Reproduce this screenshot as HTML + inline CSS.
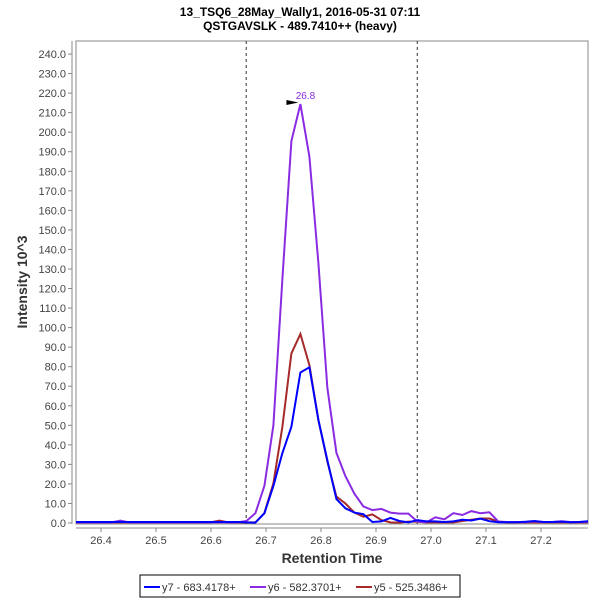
<!DOCTYPE html>
<html><head><meta charset="utf-8"><style>
body{margin:0;background:#fff;}
svg{display:block;font-family:"Liberation Sans",sans-serif;}
</style></head><body>
<svg id="chart" width="600" height="600" viewBox="0 0 600 600">
<text x="300" y="16" text-anchor="middle" font-size="12" font-weight="bold">13_TSQ6_28May_Wally1, 2016-05-31 07:11</text>
<text x="300" y="30" text-anchor="middle" font-size="12" font-weight="bold">QSTGAVSLK - 489.7410++ (heavy)</text>
<rect x="76" y="41" width="512" height="483" fill="#fff" stroke="#888" stroke-width="1"/>
<g id="yaxis"></g>
<g id="xaxis"></g>
<text transform="translate(27,282) rotate(-90)" text-anchor="middle" font-size="14" font-weight="bold" fill="#333">Intensity 10^3</text>
<text x="332" y="563" text-anchor="middle" font-size="14" font-weight="bold" fill="#333">Retention Time</text>
<defs><clipPath id="clip"><rect x="76" y="41" width="512" height="483"/></clipPath></defs>
<g id="marks" clip-path="url(#clip)"></g>
<g>
<rect x="140" y="575" width="320" height="22" fill="#fff" stroke="#000" stroke-width="1"/>
<line x1="144" y1="587" x2="160" y2="587" stroke="#0000ff" stroke-width="2"/>
<text x="162" y="591" font-size="11" fill="#333">y7 - 683.4178+</text>
<line x1="250" y1="587" x2="266" y2="587" stroke="#8a2be2" stroke-width="2"/>
<text x="268" y="591" font-size="11" fill="#333">y6 - 582.3701+</text>
<line x1="356" y1="587" x2="372" y2="587" stroke="#a52a2a" stroke-width="2"/>
<text x="374" y="591" font-size="11" fill="#333">y5 - 525.3486+</text>
</g>
</svg>
<script>
const t0 = 26.3535;
const dt = 0.016364;
const y7 = [0.5,0.5,0.5,0.5,0.5,0.5,0.5,0.5,0.5,0.5,0.5,0.5,0.5,0.5,0.5,0.5,0.5,0.5,0.5,
 0.3,0.2,5,19,35.8,49.3,77,79.7,52.7,32,12.3,7.5,5.3,4.5,0.5,0.8,2.6,1,0.3,1.5,0.8,0.8,0.5,0.8,1.7,1.3,2.2,0.9,0.4,
 0.4,0.4,0.6,1.0,0.5,0.5,0.7,0.4,0.5,0.9];
const y6 = [0.3,0.3,0.3,0.3,0.3,1.2,0.3,0.3,0.3,0.3,0.3,0.3,0.3,0.3,0.3,0.3,0.3,0.3,0.3,
 1,5,19,50,125,195.5,214.4,187.5,133,69,36,24,15,8.5,6.6,7.2,5.3,4.8,4.8,0.7,0.3,2.9,1.9,5,4.1,6.1,5,5.5,0.7,
 0.5,0.5,0.4,0.8,0.5,0.5,0.9,0.5,0.5,0.6];
const y5 = [0.3,0.3,0.3,0.3,0.3,0.3,0.3,0.3,0.3,0.3,0.3,0.3,0.3,0.3,0.3,0.3,1.2,0.3,0.3,
 0.3,0.3,5,20.3,49.3,86.8,96.7,80.8,52.7,31.4,13.5,10,5.3,3.2,4.4,1.5,0.3,0.2,0.7,0.7,0.3,0.3,0.3,0.3,1,1.7,2.3,2.3,0.7,
 0.3,0.3,0.3,0.3,0.3,0.3,0.3,0.3,0.3,0.3];
const yTicks = [0,10,20,30,40,50,60,70,80,90,100,110,120,130,140,150,160,170,180,190,200,210,220,230,240];
const xTicks = [26.4,26.5,26.6,26.7,26.8,26.9,27.0,27.1,27.2];
const boundaries = [26.664,26.975];
const peakLabel = "26.8";

const NS = "http://www.w3.org/2000/svg";
function X(t){ return 101 + (t - 26.4) * 550; }
function Y(v){ return 523 - v * 1.954; }
function mk(tag, attrs, parent){ const e=document.createElementNS(NS,tag); for(const k in attrs) e.setAttribute(k,attrs[k]); parent.appendChild(e); return e; }

const ya = document.getElementById('yaxis');
mk('line',{x1:72,y1:41,x2:72,y2:524,stroke:'#888'},ya);
yTicks.forEach(v=>{
  mk('line',{x1:68,y1:Y(v),x2:72,y2:Y(v),stroke:'#888'},ya);
  const tx = mk('text',{x:66,y:Y(v)+4,'text-anchor':'end','font-size':11,fill:'#444'},ya);
  tx.textContent = v.toFixed(1);
  
  
});
const xa = document.getElementById('xaxis');
mk('line',{x1:76,y1:528,x2:588,y2:528,stroke:'#888'},xa);
xTicks.forEach(t=>{
  mk('line',{x1:X(t),y1:528,x2:X(t),y2:532,stroke:'#888'},xa);
  const tx = mk('text',{x:X(t),y:544,'text-anchor':'middle','font-size':11,fill:'#444'},xa);
  tx.textContent = t.toFixed(1);
  
  
});
const marks = document.getElementById('marks');
boundaries.forEach(b=>{
  const l = mk('line',{x1:X(b),y1:41,x2:X(b),y2:524,stroke:'#333','stroke-dasharray':'3,3'},marks);
  
  
});
function series(vals,color,name){
  const pts = vals.map((v,i)=>X(t0+i*dt).toFixed(1)+','+Y(v).toFixed(1)).join(' ');
  const p = mk('polyline',{points:pts,fill:'none',stroke:color,'stroke-width':2,'stroke-linejoin':'miter'},marks);
  
  
}
series(y5,'#a52a2a','series-y5');
series(y6,'#8a2be2','series-y6');
series(y7,'#0000ff','series-y7');
// peak annotation
let pi=0; y6.forEach((v,i)=>{ if(v>y6[pi]) pi=i; });
const px = X(t0+pi*dt), py = Y(y6[pi]);
const svg = document.getElementById('chart');
const arrow = mk('polygon',{points:(px-14)+','+(py-4)+' '+(px-2)+','+(py-1.5)+' '+(px-14)+','+(py+1)},svg);


const lab = mk('text',{x:px+5,y:py-5,'text-anchor':'middle','font-size':10,fill:'#8a2be2'},svg);
lab.textContent = peakLabel;


</script>
</body></html>
